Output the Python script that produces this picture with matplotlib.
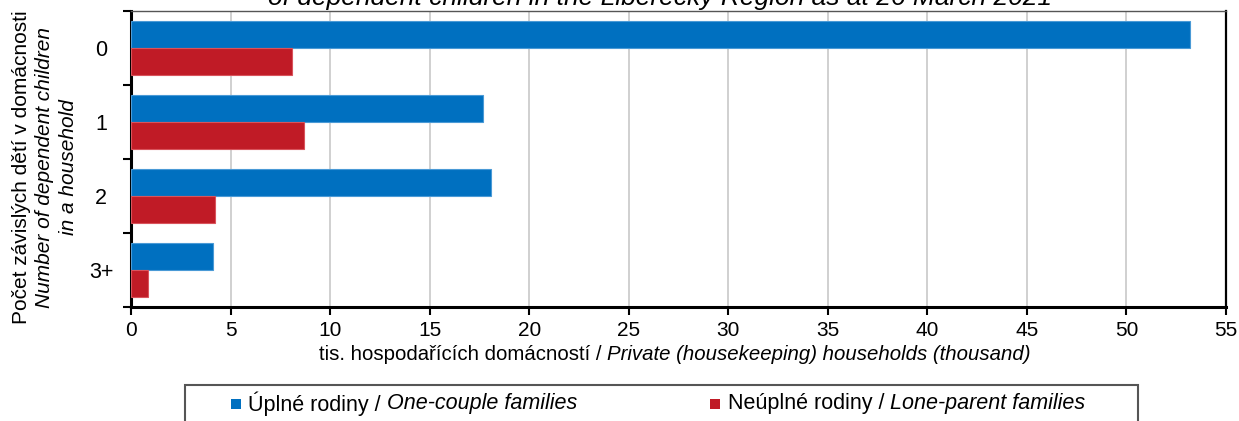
import matplotlib
matplotlib.use("Agg")
import matplotlib.pyplot as plt
from matplotlib.patches import Rectangle
import numpy as np

plt.rcParams["font.family"] = ["Liberation Sans", "DejaVu Sans"]

# households by number of dependent children (thousand)
categories = ["0", "1", "2", "3+"]
one_couple = [53.2, 17.7, 18.1, 4.1]
lone_parent = [8.1, 8.7, 4.2, 0.85]

BLUE = "#0070C0"
RED = "#C01B26"
FS = 15

W, H = 1239, 421
fig = plt.figure(figsize=(W / 100, H / 100), dpi=100)
ax = fig.add_axes([131 / W, 1 - 307 / H, (1226 - 131) / W, (307 - 11) / H])

y = np.arange(len(categories))
bh = 0.365
ax.barh(y - bh / 2, one_couple, height=bh, color=BLUE, edgecolor="#4a9ad6",
        linewidth=0.8, zorder=3)
ax.barh(y + bh / 2, lone_parent, height=bh, color=RED, edgecolor="#d9535c",
        linewidth=0.8, zorder=3)

ax.set_xlim(0, 55)
ax.set_ylim(len(categories) - 0.5, -0.5)
ax.set_xticks(np.arange(0, 56, 5))
ax.set_yticks(y)
ax.set_yticklabels(categories, ha="center")
ax.set_yticks(np.arange(-0.5, len(categories)), minor=True)
ax.tick_params(axis="y", which="major", length=0, pad=21.6, labelsize=15.5)
ax.tick_params(axis="y", which="minor", length=6, width=1.5, direction="out")
ax.tick_params(axis="x", length=6, width=1.5, direction="out", labelsize=FS, pad=4)
ax.grid(axis="x", color="#c8c8c8", linewidth=1.2, zorder=0)

for side, lw, col in [("left", 2.2, "black"), ("bottom", 2.2, "black"),
                      ("right", 1.6, "black"), ("top", 1.0, "#555555")]:
    ax.spines[side].set_linewidth(lw)
    ax.spines[side].set_color(col)


def mixed_text(x_px, y_px, parts, ha="center", size=FS):
    """Place a line of regular/italic pieces side by side (pixel coords from top-left)."""
    fig.canvas.draw()
    r = fig.canvas.get_renderer()
    arts = []
    for s, style in parts:
        t = fig.text(0, 0, s, fontsize=size, style=style, va="center", ha="left")
        arts.append(t)
    widths = [a.get_window_extent(r).width for a in arts]
    total = sum(widths)
    x0 = x_px - total / 2 if ha == "center" else x_px
    for a, w in zip(arts, widths):
        a.set_position((x0 / W, 1 - y_px / H))
        x0 += w
    return arts


# title (last line only sits inside the canvas)
fig.text(660 / W, 1 - 5 / H,
         "of dependent children in the Liberecký Region as at 26 March 2021",
         fontsize=19, style="italic", ha="center", va="baseline")

# y label
fig.text(22 / W, 1 - 167 / H, "Počet závislých dětí v domácnosti", rotation=90,
         fontsize=FS, ha="center", va="center")
fig.text(45 / W, 1 - 167 / H, "Number of dependent children", rotation=90,
         fontsize=FS, style="italic", ha="center", va="center")
fig.text(68 / W, 1 - 167 / H, "in a household", rotation=90,
         fontsize=FS, style="italic", ha="center", va="center")

# x label
mixed_text(675, 355, [("tis. hospodařících domácností / ", "normal"),
                      ("Private (housekeeping) households (thousand)", "italic")],
           size=14.7)

# legend box
fig.patches.append(Rectangle((185 / W, -0.1), (1138 - 185) / W, 0.1 + (421 - 385) / H,
                             transform=fig.transFigure, facecolor="white",
                             edgecolor="#555555", linewidth=1.5))
sq = 10
for xs, col in [(231, BLUE), (710, RED)]:
    fig.patches.append(Rectangle((xs / W, 1 - (404 + sq / 2) / H), sq / W, sq / H,
                                 transform=fig.transFigure, facecolor=col,
                                 edgecolor="none"))
mixed_text(248, 404, [("Úplné rodiny / ", "normal"), ("One-couple families", "italic")],
           ha="left", size=15.5)
mixed_text(728, 404, [("Neúplné rodiny / ", "normal"), ("Lone-parent families", "italic")],
           ha="left", size=15.5)

fig.savefig("out.png", dpi=100)
